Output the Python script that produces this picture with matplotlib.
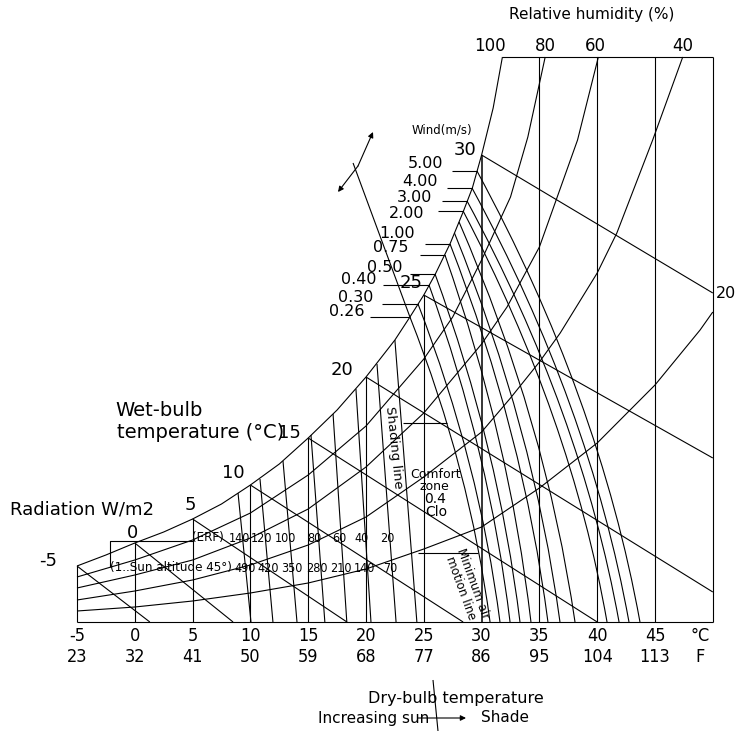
"""Bioclimatic chart: dry-bulb temperature, humidity, wind and radiation."""

import matplotlib
matplotlib.use("Agg")
import matplotlib.pyplot as plt
from matplotlib.path import Path
from matplotlib.patches import PathPatch

# ---- dry-bulb axis ----
celsius_ticks = [-5, 0, 5, 10, 15, 20, 25, 30, 35, 40, 45]
fahrenheit_ticks = [23, 32, 41, 50, 59, 68, 77, 86, 95, 104, 113]
chart_left_T, chart_right_T = -5, 50
chart_top_h = 565            # chart height units above the base line

# ---- relative humidity curves (dry-bulb degC, height) ----
rh100_T = [-5, -2.5, 0, 2.5, 5, 7.5, 10, 12.5, 15, 17.5, 20, 22.5, 23.8, 25,
           26, 27.3, 28.4, 29.2, 30, 31, 31.8]
rh100_h = [56, 67, 79, 90, 103, 118, 137, 158, 184, 212, 245, 282, 305, 327,
           348, 379, 410, 434, 467, 514, 565]
rh80_T = [-5, 0, 5, 10, 15, 20, 25, 27.5, 30, 32.5, 34, 35.5]
rh80_h = [45, 62, 82, 109, 147, 196, 263, 305, 362, 425, 485, 565]
rh60_T = [-5, 0, 5, 10, 15, 20, 25, 30, 32.2, 35, 38.3, 40.1]
rh60_h = [34, 47, 62, 84, 113, 155, 209, 278, 315, 375, 482, 565]
rh40_T = [-5, 0, 5, 10, 15, 20, 25, 30, 32.5, 35, 36.8, 40, 41.7, 44.8, 47.4]
rh40_h = [22, 31, 42, 57, 77, 105, 145, 190, 224, 260, 289, 349, 389, 482, 565]
rh20_T = [-5, 0, 5, 10, 15, 20, 25, 30, 35, 40, 45, 48.9, 50]
rh20_h = [11, 15, 21, 29, 39, 53, 73, 95, 134, 179, 237, 292, 310]

# ---- dry-bulb verticals ----
dry_low_T = [0, 5, 10, 15, 20, 25, 30]          # end on the saturation curve
dry_low_top_h = [79, 103, 137, 184, 245, 327, 467]
dry_high_T = [35, 40, 45]                         # run to the chart top

# ---- wet-bulb lines ----
wb_labels = ["-5", "0", "5", "10", "15", "20", "25", "30"]
wb_start_T = [-5, 0, 5, 10, 15, 20, 25, 30]
wb_start_h = [56, 79, 103, 137, 184, 245, 327, 467]
wb_end_T = [1.3, 8.5, 18.35, 28.4, 40.0, 50, 50, 50]
wb_end_h = [0, 0, 0, 0, 0, 30, 164, 329]

# ---- wind lines (m/s) ----
wind_labels = ["0.26", "0.30", "0.40", "0.50", "0.75", "1.00", "", "",
               "2.00", "3.00", "4.00", "5.00"]
wind_top_T = [23.8, 24.5, 25.45, 25.97, 26.83, 27.27, 27.65, 28.05,
              28.4, 28.74, 29.17, 29.6]
wind_top_h = [305, 318, 337, 348, 367, 378, 389, 400, 411, 421, 434, 451]
wind_base_T = [30.73, 31.59, 32.46, 33.32, 34.27, 35.74, 36.78, 38.08,
               40.85, 41.89, 42.75, 43.7]
wind_tick_T = [20.34, 21.38, 21.47, 23.8, 24.67, 25.1, None, None,
               26.23, 26.58, 27.0, 27.44]
# upward extension of the minimum air motion line
air_ext_T = [18.88, 23.8]
air_ext_h = [459, 305]

# ---- radiation lines (W/m2) ----
erf_labels = ["140", "120", "100", "80", "60", "40", "20"]
sun_labels = ["490", "420", "350", "280", "210", "140", "70"]
rad_top_T = [8.93, 10.83, 12.82, 15.24, 17.15, 19.13, 20.95]
rad_top_h = [129, 143, 161, 187, 208, 233, 258]
rad_base_T = [10.05, 11.95, 14.03, 16.44, 18.34, 20.43, 22.6]
shade_T = [22.5, 24.4]
shade_h = [282, 0]

# ---- comfort zone (0.4 clo) ----
comfort_top_T, comfort_top_h = [23.2, 27.0], 199
comfort_bot_T, comfort_bot_h = [24.5, 29.7], 69

# ---- bracket by the radiation rows ----
bracket_T = [5.0, -2.15, -2.15]
bracket_h = [81, 81, 55]

# pixel layout of the reference: 1 degC = 11.56 px, 0 degC at x=134.8, base at y=622
X0, SX, BASE = 134.8, 11.56, 622
W, H = 737, 731


def px(x, y):
    """Reference pixel position -> chart coordinates (for text placement)."""
    return (x - X0) / SX, BASE - y


LW = 0.8
K = "black"
plt.rcParams["font.family"] = ["DejaVu Sans"]

fig = plt.figure(figsize=(W / 100, H / 100), dpi=100)
ax = fig.add_axes([0, 0, 1, 1])
ax.set_xlim(px(0, 0)[0], px(W, 0)[0])
ax.set_ylim(BASE - H, BASE)
ax.axis("off")


def line(xs, ys, lw=LW):
    ax.plot(xs, ys, color=K, lw=lw, solid_capstyle="butt")


# frame
line([chart_left_T, chart_right_T], [0, 0])
line([chart_left_T, chart_left_T], [0, rh100_h[0]])
line([chart_right_T, chart_right_T], [0, chart_top_h])
line([rh100_T[-1], chart_right_T], [chart_top_h, chart_top_h])

# relative humidity
for T, h in [(rh100_T, rh100_h), (rh80_T, rh80_h), (rh60_T, rh60_h),
             (rh40_T, rh40_h), (rh20_T, rh20_h)]:
    line(T, h)

# dry-bulb verticals
for T, top in zip(dry_low_T, dry_low_top_h):
    line([T, T], [0, top], lw=1.1 if T == 30 else LW)
for T in dry_high_T:
    line([T, T], [0, chart_top_h])

# wet-bulb
for t0, h0, t1, h1 in zip(wb_start_T, wb_start_h, wb_end_T, wb_end_h):
    line([t0, t1], [h0, h1])

# wind lines: curves from the saturation curve down to the base
for t0, h0, tb in zip(wind_top_T, wind_top_h, wind_base_T):
    verts = [(t0, h0), (t0 + 0.75 * (tb - t0), h0 / 2), (tb, 0)]
    path = Path(verts, [Path.MOVETO, Path.CURVE3, Path.CURVE3])
    ax.add_patch(PathPatch(path, fill=False, ec=K, lw=LW))
for lab, tt, t0, h0 in zip(wind_labels, wind_tick_T, wind_top_T, wind_top_h):
    if lab:
        line([tt, t0], [h0, h0])
line(air_ext_T, air_ext_h)

# radiation and shading lines
for t0, h0, tb in zip(rad_top_T, rad_top_h, rad_base_T):
    line([t0, tb], [h0, 0])
line(shade_T, shade_h)

# comfort zone
line(comfort_top_T, [comfort_top_h] * 2)
line(comfort_bot_T, [comfort_bot_h] * 2)
line(bracket_T, bracket_h)

# arrows
arw = dict(arrowstyle="-|>", color=K, lw=LW, mutation_scale=8,
           shrinkA=0, shrinkB=0)
ax.annotate("", xy=px(373, 132), xytext=px(358, 166), arrowprops=arw)
ax.annotate("", xy=px(338, 192), xytext=px(358, 166), arrowprops=arw)
ax.annotate("", xy=px(466, 718), xytext=px(418, 718), arrowprops=arw)
d0, d1 = px(433, 680), px(438, 731)
line([d0[0], d1[0]], [d0[1], d1[1]])


def label(s, x, y, size, ha="center", narrow=False, rot=0, **kw):
    ax.text(*px(x, y), s, fontsize=size, ha=ha, va="center",
            fontstretch="condensed" if narrow else "normal",
            rotation=rot, rotation_mode="anchor", color=K, **kw)


# axis labels
for c, f in zip(celsius_ticks, fahrenheit_ticks):
    ax.text(c, -14, str(c), fontsize=13, ha="center", va="center",
            fontstretch="condensed")
    ax.text(c, -35, str(f), fontsize=13, ha="center", va="center",
            fontstretch="condensed")
label("°C", 700, 636, 13, narrow=True)
label("F", 700, 657, 13, narrow=True)
label("Dry-bulb temperature", 456, 698, 11.5)
label("Increasing sun", 429, 718, 11, ha="right")
label("Shade", 481, 718, 11, ha="left")

# humidity labels
label("Relative humidity (%)", 592, 15, 11)
for s, x in zip(["100", "80", "60", "40"], [490, 545, 595, 683]):
    label(s, x, 46, 12)
label("20", 716, 293, 11.5, ha="left")

# wind labels
label("Wind(m/s)", 412, 130, 8.5, ha="left")
wind_label_px = [(364, 312), (373, 298), (377, 280), (402, 267), (408, 248),
                 (415, 233), None, None, (424, 213), (432, 197), (438, 182),
                 (443, 163)]
for lab, pos in zip(wind_labels, wind_label_px):
    if lab:
        label(lab, pos[0], pos[1], 11.5, ha="right")

# wet-bulb labels
wb_label_px = [(48, 561), (132, 533), (190, 505), (233, 473), (289, 433),
               (342, 370), (411, 283), (465, 150)]
for lab, pos in zip(wb_labels, wb_label_px):
    label(lab, pos[0], pos[1], 13)
label("Wet-bulb", 115, 411, 14, ha="left")
label("temperature (°C)", 117, 433, 14, ha="left")

# radiation labels
label("Radiation W/m2", 10, 510, 13, ha="left")
label("(ERF)", 192, 538, 9.5, ha="left", narrow=True)
for s, x in zip(erf_labels, [239, 262, 285, 314, 339, 362, 387]):
    label(s, x, 538, 9, narrow=True)
label("(1..Sun altitude 45°)", 110, 568, 9.5, ha="left", narrow=True)
for s, x in zip(sun_labels, [245, 268, 292, 317, 341, 364, 390]):
    label(s, x, 568, 9, narrow=True)

# zone labels
label("Shading line", 394, 447, 9.5, rot=-84)
label("Comfort", 436, 475, 9)
label("zone", 434, 487, 9)
label("0.4", 435, 499, 10)
label("Clo", 436, 512, 10)
label("Minimum air\nmotion line", 467, 586, 8.5, rot=-70, linespacing=0.95)

fig.savefig("out.png", dpi=100)
plt.close(fig)
